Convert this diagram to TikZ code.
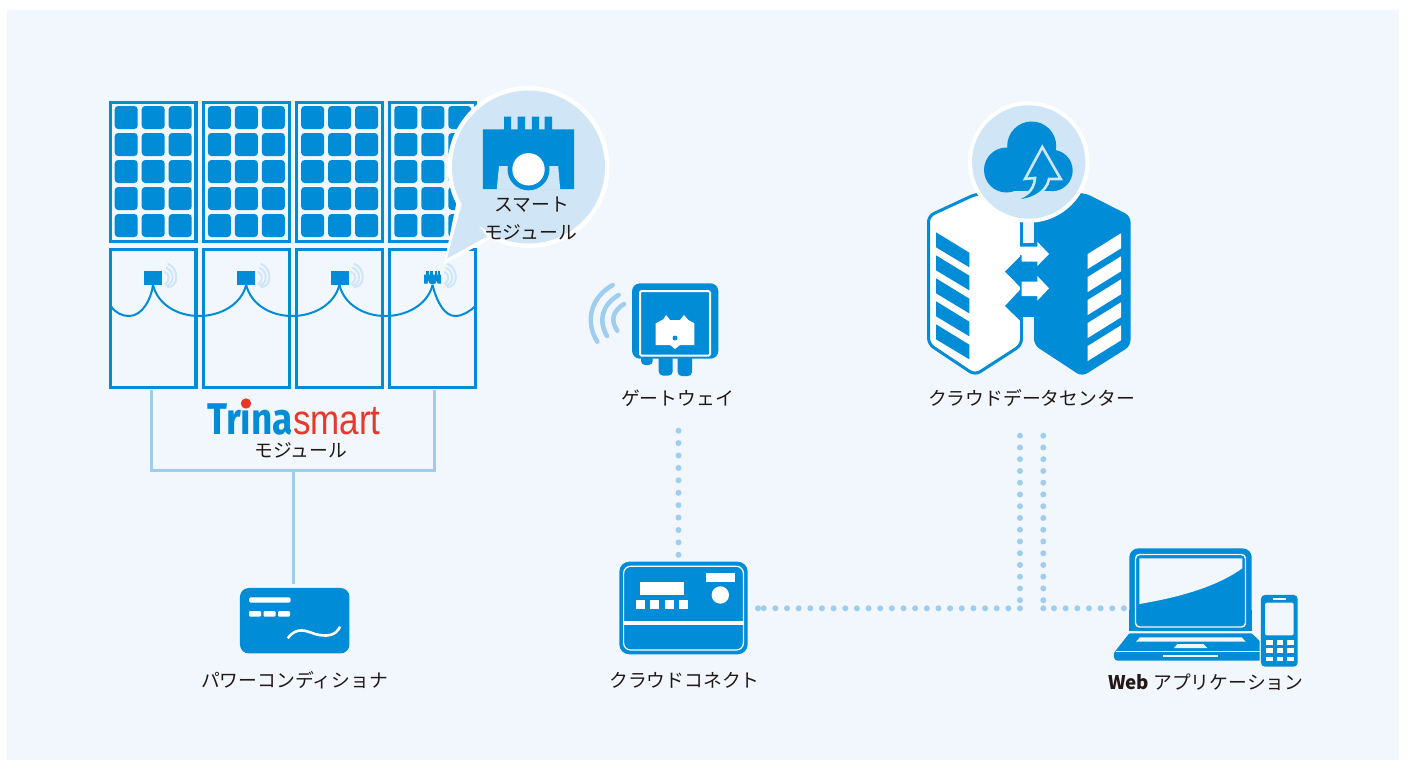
\documentclass[tikz,border=0pt]{standalone}
\usepackage{fontspec}
\setmainfont{Noto Sans CJK JP}
\newfontfamily\logofont{Fira Sans}
\newfontfamily\thinfont{Liberation Sans}
\definecolor{pageblue}{HTML}{F2F7FE}
\definecolor{iconblue}{HTML}{008CD6}
\definecolor{lineblue}{HTML}{9FCDEE}
\definecolor{bubbleblue}{HTML}{D0E6F7}
\definecolor{waveblue}{HTML}{CFE5F8}
\definecolor{logored}{HTML}{E8382A}
\definecolor{labelink}{HTML}{231815}
\tikzset{
    label/.style={font=\fontsize{18.8}{22}\selectfont, text=labelink, inner sep=0pt, yshift=-1pt},
    devbox/.style={fill=iconblue, inner sep=0pt},
    dotline/.style={lineblue, line width=6pt, line cap=round, dash pattern=on 0pt off 11.75pt},
    dotrow/.style={lineblue, line width=6pt, line cap=round, dash pattern=on 0pt off 11.65pt},
    solidline/.style={lineblue, line width=3pt},
}
\begin{document}
\begin{tikzpicture}[x=1pt,y=-1pt]
    \useasboundingbox (0,0) rectangle (1407,760);
    \fill[pageblue] (7,10) rectangle (1399,760);

    % solar panels
    \foreach \i in {0,1,2,3}{
        \begin{scope}[xshift=\i*93.2pt]
            \draw[iconblue, line width=3.2pt] (110.2,102.6) rectangle (195.9,241.2);
            \draw[iconblue, line width=3.2pt] (110.2,249.7) rectangle (195.9,387.6);
            \foreach \c in {0,1,2}{
                \foreach \r in {0,1,2,3,4}{
                    \fill[iconblue, rounded corners=3.5pt] (114.7+\c*27,106+\r*27) rectangle ++(23,23);
                };
            };
            \foreach \w in {0,1,2}{
                \draw[waveblue, line width=2pt, line cap=round] (165+\w*1.5,272-\w*4) .. controls (170+\w*4.5,274-\w*3) and (170+\w*4.5,281+\w*3) .. (165+\w*1.5,284+\w*1.5);
            };
        \end{scope}
    };
    \draw[iconblue, line width=2pt] (111,306.5) .. controls (116,313) and (122,316) .. (129,316) .. controls (142,316) and (151,300) .. (153,285);
    \foreach \i in {153,246.2,339.4}{
        \draw[iconblue, line width=2pt] (\i,285) .. controls (\i+5,305) and (\i+25,316) .. (\i+46,316) .. controls (\i+67,316) and (\i+88,305) .. (\i+93.2,285);
    };
    \draw[iconblue, line width=2pt] (432.6,285) .. controls (437,303) and (445,316) .. (455,316) .. controls (463,316) and (470,311) .. (475,306.5);
    \foreach \i in {144.2,237.4,330.6}{
        \fill[iconblue] (\i,271) rectangle ++(18,14);
    };
    \fill[iconblue] (424,274.5) -- (441,274.5) -- (441,283.5) -- (437.5,283.5) -- (436.5,279) -- (428.5,279) -- (427.5,283.5) -- (424,283.5) -- cycle;
    \fill[iconblue] (432.6,280) circle (4.5);
    \foreach \i in {426.3,430.4,434.5,438.2}{
        \fill[iconblue] (\i,271) rectangle ++(2.2,4);
    };

    % bubble
    \fill[white] (528.5,167) circle (81);
    \fill[white] (444,264) -- (457,200) -- (492,238) -- cycle;
    \fill[bubbleblue] (447,258.5) -- (462,203) -- (487,236.5) -- cycle;
    \fill[bubbleblue] (528.5,167) circle (76.5);
    \fill[iconblue] (482.8,129.3) -- (504,129.3) -- (504,116.7) -- (511,116.7) -- (511,129.3)
        -- (517.6,129.3) -- (517.6,116.7) -- (525,116.7) -- (525,129.3) -- (531.8,129.3) -- (531.8,116.7)
        -- (539,116.7) -- (539,129.3) -- (544.7,129.3) -- (544.7,116.7) -- (552,116.7) -- (552,129.3)
        -- (574,129.3) -- (574,189) -- (482.8,189) -- cycle;
    \fill[bubbleblue] (496.7,189.5) -- (499,166) -- (558.2,166) -- (560.2,189.5) -- cycle;
    \fill[iconblue] (528.5,169.3) circle (21);
    \fill[white] (528.5,169.3) circle (16.2);
    \node[label] (smartA) at (531.5,204) {スマート};
    \node[label] (smartB) at (530.5,231.5) {モジュール};

    % logo and bracket
    \coordinate (brL) at (151.5,390);
    \coordinate (brR) at (434.5,390);
    \draw[solidline] (brL) |- (brR |- 0,470) -- (brR);
    \node[inner sep=0pt, anchor=base west, text=iconblue] (trina) at (207,434.5) {\logofont\bfseries\fontsize{37}{37}\selectfont\scalebox{1}[1.2]{Trına}};
    \node[inner sep=0pt, anchor=base west, text=logored] (smart) at (293,434.5) {\thinfont\fontsize{35}{35}\selectfont\scalebox{1}[1.2]{smart}};
    \fill[logored] (246,403.5) circle (5.2);
    \node[label] (modlabel) at (301,449) {モジュール};

    % power conditioner
    \node[devbox, rounded corners=9pt, minimum width=109.5pt, minimum height=65.5pt] (pcs) at (294.7,620.7) {};
    \draw[solidline] (pcs.north -| 293,0) ++(0,-4) -- (293,471.5);
    \fill[white, rounded corners=1.5pt] (249,597.3) rectangle (290.7,602.7);
    \foreach \i in {249,263.5,278}{
        \fill[white, rounded corners=1pt] (\i,611) rectangle ++(12,5.7);
    };
    \draw[white, line width=2.6pt] (287.7,638.3) .. controls (297,626) and (306,631) .. (315,634) .. controls (326,637) and (336,636) .. (340,626.7);
    \node[label] (pcslabel) at (294.5,679) {パワーコンディショナ};

    % gateway
    \foreach \i/\j/\k in {641/652.7/365,658.7/672.7/375.5,677.7/692/376}{
        \fill[iconblue, rounded corners=4pt] (\i,352) rectangle (\j,\k);
    };
    \node[devbox, rounded corners=8pt, minimum width=86.3pt, minimum height=75.4pt] (gateway) at (675.2,321) {};
    \draw[white, line width=2pt, rounded corners=1.5pt] (640,291) rectangle (710,355.7);
    \fill[white] (655.7,323.3) -- (663.3,319.3) -- (666,315) -- (670,320) -- (680,320) -- (684,315) -- (688.3,320)
        -- (694.3,323.3) -- (694.3,345) -- (680,345) -- (675,349) -- (670,345) -- (655.7,345) -- cycle;
    \fill[iconblue] (675,338) circle (2.5);
    \draw[lineblue, line width=4.5pt, line cap=round] (612.7,285) .. controls (590,298) and (585,322) .. (597.3,341.7);
    \draw[lineblue, line width=4.5pt, line cap=round] (618.7,295) .. controls (602,305) and (598,320) .. (607,336);
    \draw[lineblue, line width=4.5pt, line cap=round] (624,304) .. controls (613,311) and (610,320) .. (617.3,330.7);
    \node[label] (gatelabel) at (677.5,397.5) {ゲートウェイ};

    % cloud connect
    \node[devbox, rounded corners=10pt, minimum width=128.4pt, minimum height=92.6pt] (connect) at (683.5,608) {};
    \draw[white, line width=1.2pt, rounded corners=7pt] (623.6,566.3) rectangle (743.4,650);
    \fill[white] (623.6,621) rectangle (743.4,625);
    \fill[white] (640,582) rectangle (684,594.7);
    \foreach \i in {636,650,665,679}{
        \fill[white] (\i,600) rectangle ++(9,8.7);
    };
    \fill[white] (706,573) rectangle (735,582);
    \fill[white] (720.3,595) circle (8.7);
    \node[label] (connlabel) at (684.5,679) {クラウドコネクト};

    % data center
    \draw[iconblue, line width=3pt, fill=white, rounded corners=6pt] (976,194) -- (1021.5,194) -- (1021.5,345) -- (975,375) -- (928.5,344) -- (928.5,216) -- cycle;
    \fill[iconblue, rounded corners=6pt] (1085,193) -- (1130.5,216) -- (1130.5,346) -- (1082,376.5) -- (1034,345) -- (1034,194) -- cycle;
    \fill[pageblue] (1023,210) rectangle (1034,243);
    \fill[pageblue] (1023,317) rectangle (1034,350);
    \fill[iconblue] (1020,243) rectangle (1036,317);
    \fill[iconblue] (1005,271.7) -- (1021.5,255) -- (1021.5,288.3) -- cycle;
    \fill[iconblue] (1005,306) -- (1021.5,288.3) -- (1021.5,322) -- cycle;
    \fill[white] (1019,246.7) -- (1037.3,246.7) -- (1037.3,241.7) -- (1049,254) -- (1037.3,266) -- (1037.3,261.7) -- (1021.5,261.7) -- (1021.5,255) -- (1019,255) -- cycle;
    \fill[white] (1021.7,281.7) -- (1037.3,281.7) -- (1037.3,276) -- (1049,288.3) -- (1037.3,300.7) -- (1037.3,296) -- (1021.7,296) -- cycle;
    \foreach \r in {0,1,2,3,4}{
        \fill[iconblue] (936,232.3+\r*23) -- (969.3,252.7+\r*23) -- (969.3,267.3+\r*23) -- (936,247.3+\r*23) -- cycle;
        \fill[white] (1121,233.3+\r*23) -- (1087.7,254+\r*23) -- (1087.7,269+\r*23) -- (1121,248.3+\r*23) -- cycle;
    };
    \fill[white] (1028.7,162) circle (60.7);
    \fill[bubbleblue] (1028.7,162) circle (56.7);
    \fill[iconblue] (1031.7,146) circle (24.5);
    \fill[iconblue] (1006.5,170) circle (22.5);
    \fill[iconblue] (1052,170.5) circle (20.7);
    \fill[iconblue] (1006,165) rectangle (1052,191);
    \draw[bubbleblue, line width=2.6pt, fill=iconblue] (1042.3,147) -- (1060.7,179) -- (1049,179) .. controls (1047,192) and (1030,203) .. (1010,200)
        .. controls (1024,198) and (1034,192) .. (1035,178) -- (1025,179) -- cycle;
    \node[label] (cloudlabel) at (1031.5,397) {クラウドデータセンター};

    % web application
    \node[devbox, minimum width=122.4pt, minimum height=82.7pt, rounded corners=9pt] (laptop) at (1190.5,589.7) {};
    \fill[iconblue] (1129.3,610) rectangle (1251.7,631);
    \draw[pageblue, line width=1.4pt, rounded corners=4pt] (1135.5,554.5) -- (1245.5,554.5) -- (1245.5,627) -- (1135.5,627) -- cycle;
    \fill[pageblue] (1139.3,558.3) -- (1242.3,558.3) -- (1242.3,568.3) .. controls (1215,588) and (1175,598) .. (1139.3,604) -- cycle;
    \fill[iconblue, rounded corners=1pt] (1129.3,633.3) -- (1251.7,633.3) -- (1280,660.5) -- (1118,660.5) .. controls (1114,660.5) and (1113,655) .. (1115,651.5) -- cycle;
    \fill[pageblue] (1140,637.3) -- (1241.7,637.3) -- (1245.7,641.7) -- (1136,641.7) -- cycle;
    \fill[pageblue] (1177.3,644) -- (1203.3,644) -- (1207.3,648) -- (1174,648) -- cycle;
    \fill[pageblue] (1116,651) rectangle (1262,652.3);
    \fill[pageblue] (1162.7,655) rectangle (1218.3,657);
    \fill[pageblue, rounded corners=4pt] (1259.5,593.5) rectangle (1299,668);
    \node[devbox, rounded corners=4pt, minimum width=36.7pt, minimum height=71.7pt] (phone) at (1279.3,630.8) {};
    \fill[pageblue, rounded corners=2pt] (1265,602.7) rectangle (1293.7,635.3);
    \fill[pageblue] (1273.3,598) rectangle (1286,600);
    \foreach \i in {1266,1276.7,1287}{
        \foreach \j in {640,648.3,656.7}{
            \fill[white] (\i,\j) rectangle ++(6.7,4.5);
        };
    };
    \node[label] (weblabel) at (1205.7,681.5) {{\bfseries Web} アプリケーション};

    % dotted links
    \coordinate (upA) at (1020,435.7);
    \coordinate (upB) at (1043.3,435.7);
    \coordinate (cornerA) at (1020,608.3);
    \coordinate (cornerB) at (1043.3,608.3);
    \coordinate (laptopEnd) at (1124,608.3);
    \coordinate (connEnd) at (763,608.3);
    \draw[dotline, dash pattern=on 0pt off 12.41pt] (connect.north -| 678.5,0) ++(0,-6.7) -- (678.5,418.5);
    \draw[dotline] (upA) -- (cornerA);
    \draw[dotline] (upB) -- (cornerB);
    \draw[dotrow] (cornerA) -- (connEnd);
    \draw[dotrow] (connEnd) ++(-5,0) -- ++(1,0);
    \draw[dotrow] (cornerB) -- ++(1,0);
    \draw[dotrow] (cornerB) ++(10.7,0) -- (laptopEnd);
\end{tikzpicture}
\end{document}
